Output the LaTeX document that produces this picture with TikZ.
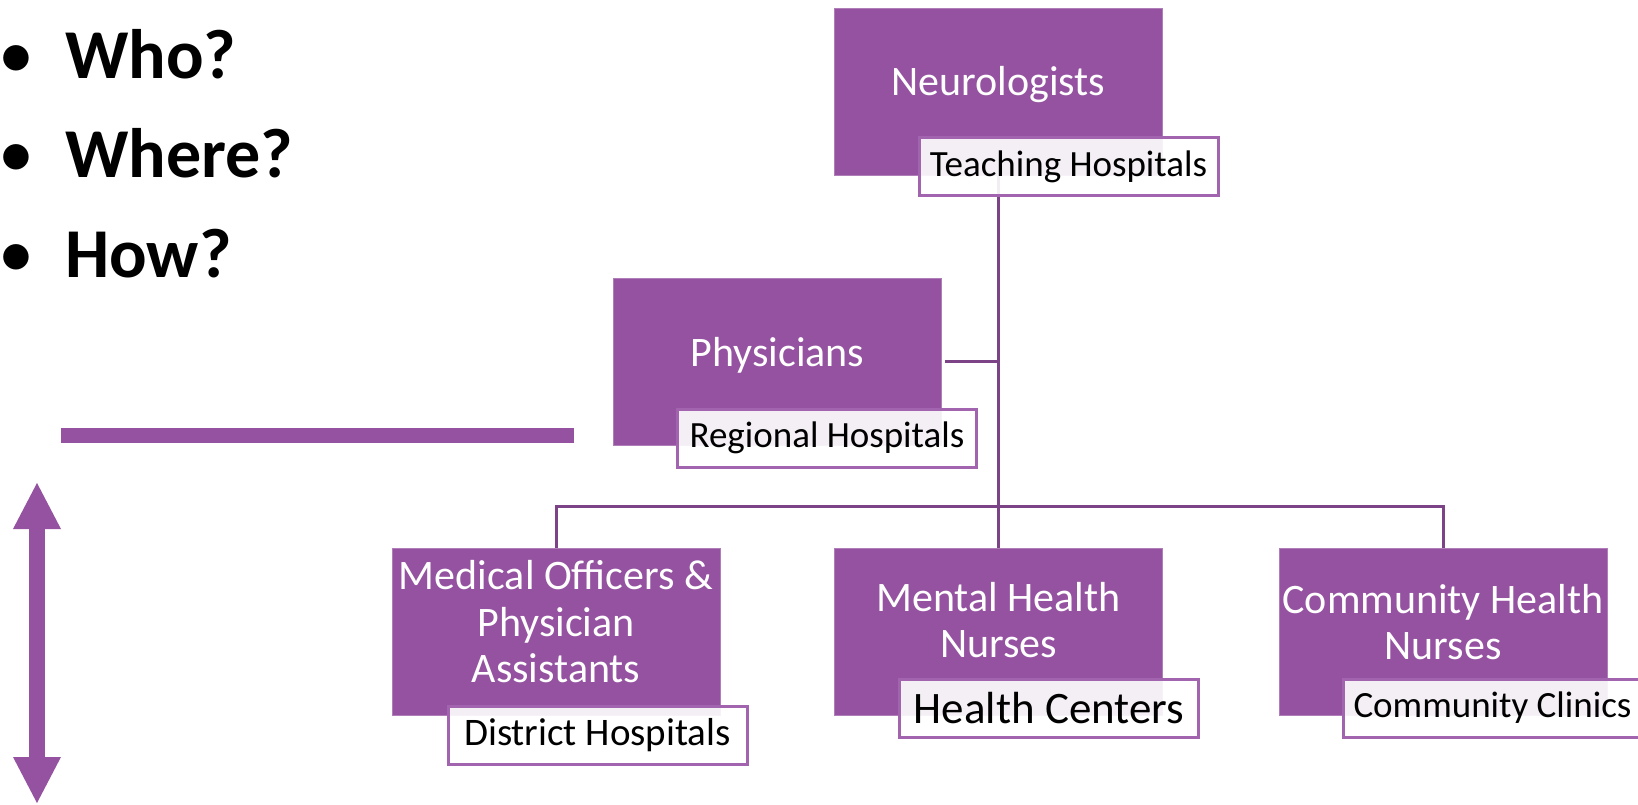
\documentclass[tikz,border=0pt]{standalone}
\usepackage{fontspec}
\setmainfont{Carlito}
\usetikzlibrary{arrows.meta}
\newcommand{\boxWidth}{328pt}
\newcommand{\boxHeight}{167pt}
\newcommand{\labelWidth}{299pt}
\newcommand{\labelHeight}{58pt}
\newcommand{\unitFont}{\fontsize{42}{46.5}\selectfont}
\newcommand{\placeFont}{\fontsize{37}{40}\selectfont}
\newcommand{\askFont}{\fontsize{70}{84}\selectfont\bfseries}
\definecolor{lila}{RGB}{148,82,160}
\definecolor{lilaLine}{RGB}{124,68,134}
\definecolor{lilaEdge}{RGB}{162,100,174}
\tikzset{
	unitbox/.style={rectangle,fill=lila,draw=lila!75!white,line width=1pt,minimum width=\boxWidth,minimum height=\boxHeight,inner sep=0pt},
	unittext/.style={text=white,font=\unitFont,align=center,inner sep=0pt},
	placelabel/.style={rectangle,draw=lilaEdge,line width=3pt,fill=white,fill opacity=0.9,text opacity=1,minimum width=\labelWidth,minimum height=\labelHeight,inner sep=0pt,font=\placeFont},
	link/.style={draw=lilaLine,line width=3pt},
	askword/.style={font=\askFont,inner sep=0pt},
	askdot/.style={font=\fontsize{72}{76}\selectfont,inner sep=0pt,anchor=base}
}

\begin{document}
\begin{tikzpicture}[x=1pt,y=-1pt]
	\useasboundingbox (0,0) rectangle (1638,804);
	% questions
	\node[askdot] (whoDot) at (16,78) {•};
	\node[askword,anchor=base west] (who) at (65,78) {Who?};
	\node[askdot] (whereDot) at (16,177) {•};
	\node[askword,anchor=base west] (where) at (65,177) {Where?};
	\node[askdot] (howDot) at (16,277) {•};
	\node[askword,anchor=base west] (how) at (65,277) {How?};
	% divider bar and level arrow
	\fill[lila] (61,428) rectangle (574,443);
	\coordinate (arrowTop) at (37,483);
	\coordinate (arrowBottom) at (37,803);
	\draw[lila,line width=16pt,{Triangle[width=48pt,length=46pt,line width=0pt]}-{Triangle[width=48pt,length=46pt,line width=0pt]}] (arrowTop)--(arrowBottom);
	% boxes
	\node[unitbox] (neuro) at (998.5,91.5) {};
	\node[unitbox] (phys) at (777.5,361.5) {};
	\node[unitbox] (medoff) at (556,631.5) {};
	\node[unitbox] (mhn) at (998.5,631.5) {};
	\node[unitbox] (chn) at (1443,631.5) {};
	% connectors
	\coordinate (bus) at (998.5,506);
	\draw[link] (neuro.south)--(mhn.north);
	\draw[link,shorten <=3pt] (phys.east)--(phys.east -| neuro.south);
	\draw[link] (medoff.north) |- (bus) -| (chn.north);
	% box texts
	\node[unittext] (neuroText) at (998.5,85) {Neurologists};
	\node[unittext] (physText) at (777.5,355) {Physicians};
	\node[unittext] (medoffText) at (556,622) {Medical Officers \&\\Physician\\Assistants};
	\node[unittext] (mhnText) at (998.5,620) {Mental Health\\Nurses};
	\node[unittext] (chnText) at (1443,622) {Community Health\\Nurses};
	% places
	\node[placelabel] (teaching) at (1068.5,166.5) {Teaching Hospitals};
	\node[placelabel] (regional) at (827,438) {Regional Hospitals};
	\node[placelabel,font=\fontsize{39}{42}\selectfont] (district) at (597.5,735) {District Hospitals};
	\node[placelabel,font=\fontsize{45}{48}\selectfont] (centers) at (1049,708) {Health Centers};
	\node[placelabel] (clinics) at (1492.5,708) {Community Clinics};
\end{tikzpicture}
\end{document}
